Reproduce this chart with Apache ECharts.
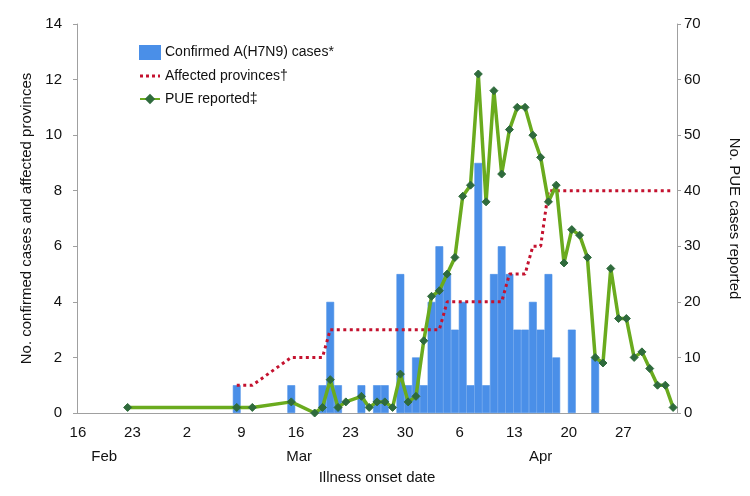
<!DOCTYPE html>
<html>
<head>
<meta charset="utf-8">
<script src="https://cdn.jsdelivr.net/npm/echarts@6/dist/echarts.min.js"></script>
<style>html,body{margin:0;padding:0;background:#fff}#chart{width:750px;height:496px}</style>
</head>
<body>
<div id="chart"></div>
<script>
// One category per day, 16 Feb 2013 .. 3 May 2013 (77 days)
const startDate = [2013, 1, 16];
const dayCount = 77;

// Day-number tick labels (every 7th day) and month labels
const dayTickLabels = ['16', '23', '2', '9', '16', '23', '30', '6', '13', '20', '27'];
const monthLabelIndex = [3, 28, 59];
const monthLabels = ['Feb', 'Mar', 'Apr'];

// Confirmed A(H7N9) cases per day (left axis)
const confirmedCases = [
  0,0,0,0,0,0,0,
  0,0,0,0,0,0,0,
  0,0,0,0,0,0,1,
  0,0,0,0,0,0,1,
  0,0,0,1,4,1,0,
  0,1,0,1,1,0,5,
  1,2,1,4,6,5,3,
  4,1,9,1,5,6,5,
  3,3,4,3,5,2,0,
  3,0,0,2,0,0,0,
  0,0,0,0,0,0,0
];

// Affected provinces (left axis), null = no point
const affectedProvinces = [
  null,null,null,null,null,null,null,
  null,null,null,null,null,null,null,
  null,null,null,null,null,null,1,
  1,1,null,null,null,null,2,
  2,2,2,2,3,3,3,
  3,3,3,3,3,3,3,
  3,3,3,3,3,4,4,
  4,4,4,4,4,4,5,
  5,5,6,6,8,8,8,
  8,8,8,8,8,8,8,
  8,8,8,8,8,8,8
];

// PUE cases reported (right axis), null = no point
const pueReported = [
  null,null,null,null,null,null,1,
  null,null,null,null,null,null,null,
  null,null,null,null,null,null,1,
  null,1,null,null,null,null,2,
  null,null,0,1,6,1,2,
  null,3,1,2,2,1,7,
  2,3,13,21,22,25,28,
  39,41,61,38,58,43,51,
  55,55,50,46,38,41,27,
  33,32,28,10,9,26,17,
  17,10,11,8,5,5,1
];

const categories = [];
for (let i = 0; i < dayCount; i++) {
  const d = new Date(Date.UTC(startDate[0], startDate[1], startDate[2] + i));
  categories.push(d.toISOString().slice(0, 10));
}

const font = 'Liberation Sans, Arial, Helvetica, sans-serif';
const axisColor = '#a0a0a0';
const textColor = '#111';
const barColor = '#4a8fe8';
const redColor = '#c4122f';

// dotted legend icon (tiny corner specks fix the 20x13 bounding box)
const dottedIcon = 'path://M0,0h0.01v0.01h-0.01z M19.99,12.99h0.01v0.01h-0.01z ' +
  'M0,5h3v3h-3z M6,5h3v3h-3z M12,5h3v3h-3z M18,5h2v3h-2z';

const chart = echarts.init(document.getElementById('chart'), null, {renderer: 'canvas'});
chart.setOption({
  animation: false,
  textStyle: {fontFamily: font, color: textColor},
  grid: {left: 77, right: 72, top: 24, bottom: 83},
  legend: {
    orient: 'vertical', left: 134, top: 40,
    itemWidth: 20, itemHeight: 13, itemGap: 9,
    textStyle: {fontFamily: font, fontSize: 14, color: textColor},
    data: [
      {name: 'Confirmed A(H7N9) cases*', icon: 'rect'},
      {name: 'Affected provinces†', icon: dottedIcon},
      {name: 'PUE reported‡'}
    ]
  },
  xAxis: [
    {
      type: 'category', data: categories, boundaryGap: true,
      axisLine: {lineStyle: {color: axisColor}},
      axisTick: {interval: (i) => i % 7 === 0, length: 5, lineStyle: {color: axisColor}},
      axisLabel: {
        interval: (i) => i % 7 === 0,
        formatter: (v, i) => dayTickLabels[Math.round(i / 7)],
        margin: 12, fontSize: 15, color: textColor, fontFamily: font, padding: [0, 6, 0, 0]
      },
      name: 'Illness onset date', nameLocation: 'middle', nameGap: 57,
      nameTextStyle: {fontSize: 15, color: textColor, fontFamily: font}
    },
    {
      type: 'category', data: categories, boundaryGap: true, position: 'bottom',
      axisLine: {show: false}, axisTick: {show: false},
      axisLabel: {
        interval: (i) => monthLabelIndex.indexOf(i) >= 0,
        formatter: (v, i) => monthLabels[monthLabelIndex.indexOf(i)],
        margin: 36, fontSize: 15, color: textColor, fontFamily: font
      }
    }
  ],
  yAxis: [
    {
      type: 'value', min: 0, max: 14, interval: 2, position: 'left',
      axisLine: {show: true, lineStyle: {color: axisColor}},
      axisTick: {show: true, length: 4, lineStyle: {color: axisColor}},
      splitLine: {show: false},
      axisLabel: {margin: 15, fontSize: 15, color: textColor, fontFamily: font},
      name: 'No. confirmed cases and affected provinces', nameLocation: 'middle', nameGap: 42,
      nameTextStyle: {fontSize: 15, color: textColor, fontFamily: font}
    },
    {
      type: 'value', min: 0, max: 70, interval: 10, position: 'right',
      axisLine: {show: true, lineStyle: {color: axisColor}},
      axisTick: {show: true, length: 4, lineStyle: {color: axisColor}},
      splitLine: {show: false},
      axisLabel: {margin: 7, fontSize: 15, color: textColor, fontFamily: font},
      name: 'No. PUE cases reported', nameLocation: 'middle', nameGap: 50, nameRotate: -90,
      nameTextStyle: {fontSize: 15, color: textColor, fontFamily: font}
    }
  ],
  series: [
    {
      name: 'Confirmed A(H7N9) cases*', type: 'bar', xAxisIndex: 0, yAxisIndex: 0,
      data: confirmedCases.map((v) => (v > 0 ? v : null)), barCategoryGap: '0%', barGap: '0%',
      itemStyle: {color: barColor, borderColor: barColor, borderWidth: 0.6}, z: 1
    },
    {
      name: 'Affected provinces†', type: 'line', xAxisIndex: 0, yAxisIndex: 0,
      data: affectedProvinces, connectNulls: true, symbol: 'none',
      lineStyle: {color: redColor, width: 3, type: [3, 3.5]},
      itemStyle: {color: redColor}, z: 2
    },
    {
      name: 'PUE reported‡', type: 'line', xAxisIndex: 0, yAxisIndex: 1,
      data: pueReported, connectNulls: true, symbol: 'diamond', symbolSize: 8, showAllSymbol: true,
      lineStyle: {color: '#6aab1e', width: 3.5},
      itemStyle: {color: '#2f6b3c', borderColor: '#2f6b3c'}, z: 3
    }
  ]
});
</script>
</body>
</html>
